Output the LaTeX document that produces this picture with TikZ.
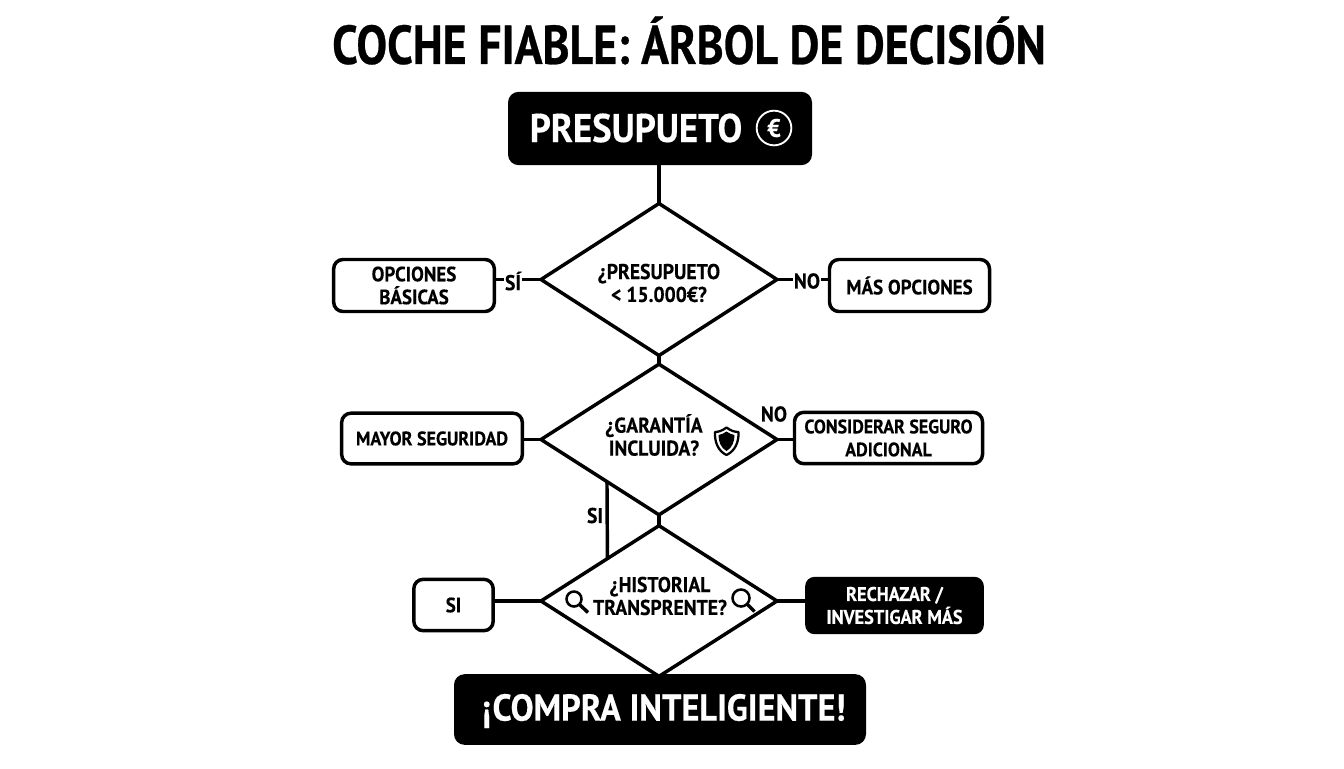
\documentclass[tikz,border=0pt]{standalone}
\usepackage{fontspec}
\setmainfont[FakeStretch=0.92,BoldFeatures={FakeBold=0.35}]{PT Sans}
\newfontface\titlefont[FakeStretch=0.84,FakeBold=0.5]{PT Sans Bold}
\usetikzlibrary{shapes.geometric,calc}
\tikzset{
  ln/.style={line width=2.6pt,black,line join=miter},
  optbox/.style={draw=black,line width=2.6pt,rounded corners=7pt,fill=white,align=center,inner sep=0pt,
    font=\bfseries\fontsize{15.5}{17.2}\selectfont},
  darkbox/.style={fill=black,text=white,rounded corners=7pt,align=center,inner sep=0pt},
  dec/.style={draw=black,line width=2.6pt,fill=white,diamond,inner sep=0pt,outer sep=0pt,minimum width=177pt},
  qtext/.style={align=center,inner sep=0pt,font=\bfseries\fontsize{16}{17.2}\selectfont},
  lab/.style={inner sep=1pt,fill=white,font=\bfseries\fontsize{16}{17}\selectfont},
  icon/.style={line width=1.7pt,black}
}
\begin{document}
\begin{tikzpicture}[x=0.75pt,y=-0.75pt]
\useasboundingbox (0,0) rectangle (1344,768);
\fill[white] (0,0) rectangle (1344,768);
\node[inner sep=0pt,font=\titlefont\fontsize{41}{44}\selectfont] (title) at (689,40.5) {COCHE FIABLE: ÁRBOL DE DECISIÓN};
\node[dec,minimum height=114pt] (d1) at (659,279.5) {};
\node[dec,minimum height=113pt] (d2) at (659,439.5) {};
\node[dec,minimum height=113pt] (d3) at (659,601) {};
% boxes
\node[darkbox,minimum width=228pt,minimum height=55pt,rounded corners=8pt] (start) at (660,128.5) {};
\node[inner sep=0pt,text=white,font=\bfseries\fontsize{30}{32}\selectfont] (starttxt) at (636,128) {PRESUPUETO};
\node[circle,draw=white,line width=1.4pt,minimum size=26pt,inner sep=0pt,text=white,font=\bfseries\fontsize{19}{19}\selectfont] (euro) at (774,128) {€};
\node[optbox,minimum width=120.5pt,minimum height=39pt] (basic) at (414,285.5) {OPCIONES\\BÁSICAS};
\node[optbox,minimum width=120pt,minimum height=39pt] (more) at (909.5,285.5) {MÁS OPCIONES};
\node[optbox,minimum width=135.5pt,minimum height=38pt,font=\bfseries\fontsize{14.7}{17.2}\selectfont] (safe) at (432,438.5) {MAYOR SEGURIDAD};
\node[optbox,minimum width=141pt,minimum height=38.5pt,font=\bfseries\fontsize{14.6}{17.2}\selectfont] (ins) at (888.5,438) {CONSIDERAR SEGURO\\ADICIONAL};
\node[optbox,minimum width=59.5pt,minimum height=38.5pt] (si) at (453.5,605) {SI};
\node[darkbox,minimum width=134pt,minimum height=43pt,font=\bfseries\fontsize{14.9}{17.2}\selectfont] (rej) at (894.5,605.5) {RECHAZAR /\\INVESTIGAR MÁS};
\node[darkbox,minimum width=309pt,minimum height=53pt,rounded corners=8pt] (final) at (660,709.5) {};
\node[inner sep=0pt,text=white,font=\bfseries\fontsize{28}{30}\selectfont] (finaltxt) at (664,711) {¡COMPRA INTELIGIENTE!};
% question text
\node[qtext] (q1) at (659,283) {¿PRESUPUETO\\< 15.000€?};
\node[qtext] (q2) at (654,435) {¿GARANTÍA\\INCLUIDA?};
\node[qtext] (q3) at (660,596) {¿HISTORIAL\\TRANSPRENTE?};
% connectors
\draw[ln] (d1.north |- start.south) -- (d1.north);
\draw[ln] (d1.south) -- (d2.north);
\draw[ln] (d2.south) -- (d3.north);
\draw[ln] (d3.south) -- (d3.south |- final.north);
\draw[ln] (d1.west) -- (basic.east |- d1.west);
\draw[ln] (d1.east) -- (more.west |- d1.east);
\draw[ln] (d2.west) -- (safe.east |- d2.west);
\draw[ln] (d2.east) -- (ins.west |- d2.east);
\draw[ln] (d3.west) -- (si.east |- d3.west);
\draw[ln] (d3.east) -- (rej.west |- d3.east);
\coordinate (sa) at ($(d2.west)!0.559!(d2.south)$);
\coordinate (sb) at ($(d3.west)!0.563!(d3.north)$);
\draw[ln] (sa) -- (sb);
% labels
\node[lab] (ls) at (513,281) {SÍ};
\node[lab] (ln1) at (807,281) {NO};
\node[lab,fill=none] (ln2) at (774,414) {NO};
\node[lab,fill=none] (lsi) at (595,515.5) {SI};
% shield
\draw[icon,fill=white,line join=round] (726.5,427.5) .. controls (731,431) and (735,432) .. (738.5,432)
  .. controls (739,442) and (735,451) .. (726.5,455)
  .. controls (718,451) and (714.5,442) .. (715,432)
  .. controls (718,432) and (722,431) .. (726.5,427.5) -- cycle;
\fill[black] (726.5,431.5) .. controls (729,433.5) and (732,434.5) .. (734.5,435)
  .. controls (734.5,442) and (732,448) .. (726.5,451)
  .. controls (721,448) and (718.5,442) .. (718.5,435)
  .. controls (721,434.5) and (724,433.5) .. (726.5,431.5) -- cycle;
% magnifiers
\draw[icon,line width=1.9pt] (574,599) circle (7.5);
\draw[icon,line width=2.6pt] (579.5,604.5) -- (588,612.5);
\draw[icon,line width=1.9pt] (741,598) circle (8.5);
\draw[icon,line width=2.6pt] (747,604) -- (754.5,611.5);
\end{tikzpicture}
\end{document}
